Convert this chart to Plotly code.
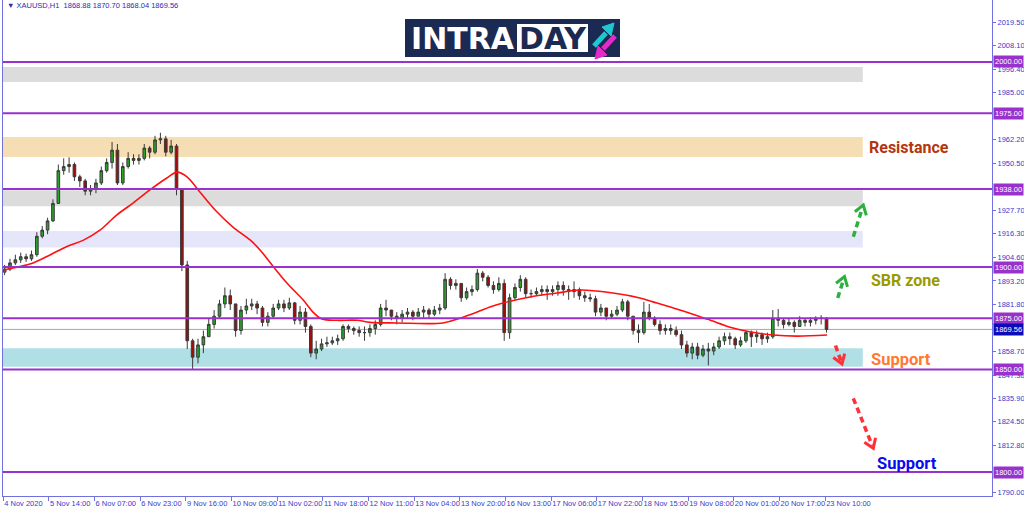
import plotly.graph_objects as go

# ---------------- data (2-hour candles) ----------------
closes = [1899, 1902, 1903.5, 1905, 1904, 1906, 1915, 1918, 1922.5, 1931,
          1947, 1949, 1950, 1944, 1942, 1937, 1938, 1941, 1947, 1951,
          1957, 1941, 1949, 1953, 1952, 1953, 1958, 1956, 1962, 1962.5,
          1956, 1959, 1938, 1901, 1864, 1856, 1862, 1866, 1872, 1876,
          1882, 1886, 1882, 1869, 1879, 1881, 1882, 1880, 1873, 1876,
          1880, 1882, 1880, 1882.5, 1874, 1878, 1871, 1858, 1860, 1862.5,
          1863, 1864, 1865, 1871, 1870, 1869, 1868, 1868, 1870, 1872,
          1880, 1879, 1876, 1875, 1877, 1878, 1876, 1878, 1879, 1877,
          1879, 1880, 1894, 1891, 1892, 1885, 1888, 1889, 1897, 1895,
          1891, 1889, 1892, 1868, 1885, 1890, 1894, 1887, 1887, 1888,
          1889, 1888, 1889, 1891, 1889, 1888, 1889, 1886, 1885, 1884.5,
          1878, 1880, 1876, 1877, 1879, 1883, 1876, 1869, 1868, 1878,
          1875, 1872, 1869, 1870, 1869, 1867, 1862, 1858, 1861, 1857,
          1860, 1859, 1861, 1864, 1866, 1865, 1862, 1864, 1868, 1866,
          1867, 1865, 1866, 1875, 1874, 1872, 1873, 1871, 1874, 1873,
          1874, 1875, 1875, 1869.56]
highs = [1901, 1904, 1906, 1907, 1906.5, 1908, 1917, 1920, 1924, 1933,
         1950, 1953, 1953.5, 1951, 1945, 1943, 1940, 1943, 1949, 1953,
         1961, 1960, 1951, 1956, 1955, 1955, 1960, 1959, 1964, 1965.5,
         1964, 1962, 1960, 1938, 1903, 1865, 1865, 1869, 1875, 1879,
         1884, 1890, 1889, 1882, 1881, 1884.5, 1884.5, 1883.5, 1881, 1878,
         1882, 1884, 1884, 1885, 1883, 1881, 1880, 1872, 1864, 1865,
         1866, 1866, 1867, 1872, 1872, 1871, 1871, 1871, 1872, 1874,
         1882, 1884, 1879, 1878, 1879, 1880, 1879, 1880, 1881, 1880,
         1881, 1882, 1897, 1895, 1894, 1892, 1890, 1891, 1899, 1898,
         1896, 1893, 1895, 1894, 1887, 1892, 1896, 1895, 1889, 1890,
         1891, 1891, 1891, 1893, 1893, 1891, 1893, 1890, 1888, 1887,
         1886, 1882, 1880, 1879, 1881, 1884.5, 1884, 1876, 1872, 1883,
         1882, 1876, 1874, 1872, 1872, 1871, 1869, 1864, 1863, 1863,
         1862, 1863, 1863, 1866, 1868, 1868, 1866, 1866, 1869, 1869,
         1869, 1868, 1868, 1879, 1879.5, 1875, 1875, 1874, 1876, 1875,
         1875.5, 1876, 1876.5, 1875.5]
lows = [1896, 1898, 1901, 1902, 1902.5, 1903, 1905, 1914, 1916, 1922,
        1931, 1945, 1946, 1942, 1939, 1935, 1935, 1936, 1940, 1946,
        1948, 1940, 1940, 1948, 1950, 1950, 1952, 1953, 1955, 1960,
        1954, 1955, 1935, 1898, 1860, 1850, 1853, 1858, 1866, 1870,
        1875, 1880, 1879, 1866, 1867, 1877, 1879, 1877, 1871, 1871,
        1875, 1879, 1878, 1879, 1872, 1872, 1868, 1856, 1855, 1859,
        1861, 1862, 1862, 1864, 1868, 1867, 1866, 1864, 1866, 1867,
        1871, 1876, 1874, 1872, 1873, 1875, 1874, 1876, 1875, 1875,
        1876, 1877, 1879, 1889, 1889, 1883, 1884, 1886, 1888, 1893,
        1890, 1887, 1888, 1864, 1865, 1884, 1888, 1885, 1885, 1886,
        1886, 1884, 1886, 1886, 1886, 1884, 1885, 1884, 1883, 1883,
        1876, 1876, 1874, 1875, 1876, 1878, 1874, 1867, 1863, 1867,
        1874, 1871, 1867, 1867, 1867, 1866, 1860, 1856, 1855, 1855,
        1856, 1852, 1857, 1860, 1862, 1862, 1860, 1861, 1863, 1861,
        1863, 1862, 1863, 1865, 1871, 1870, 1871, 1868, 1871, 1871,
        1871, 1872, 1872, 1868]
first_open = 1897.5

# moving average (hours since first bar, price)
ma_hours = [0, 6.2, 11.1, 17.4, 23.7, 29.7, 36, 42.3, 48.3, 54.6, 60.9, 64.7,
            68.4, 73.2, 79.6, 85.5, 91.9, 95.6, 98.6, 105.6, 111.6, 115.3,
            118.7, 124.2, 131.7, 136.5, 146.6, 163.7, 170, 176.4, 181.2, 186,
            196.1, 206.1, 214.7, 227, 237, 241.9, 251.9, 262, 271.7, 280.6,
            286.6, 295.5, 306.7]
ma_values = [1898.5, 1900.2, 1902, 1905.9, 1910, 1913, 1918, 1925.4, 1931.2,
             1937.6, 1943.4, 1946.3, 1944, 1936.6, 1926.8, 1919.5, 1913.2,
             1908.3, 1903.4, 1892.2, 1884, 1878, 1874.6, 1874, 1874, 1873,
             1872.7, 1872.7, 1875, 1878, 1880.5, 1882.4, 1885.4, 1887.3,
             1888.8, 1887.3, 1884.9, 1883, 1879, 1874.6, 1870.2, 1867.8,
             1866.8, 1866.3, 1866.8]

tick_hours = [17 * k for k in range(19)]
tick_labels = ["4 Nov 2020", "5 Nov 14:00", "6 Nov 07:00", "6 Nov 23:00",
               "9 Nov 16:00", "10 Nov 09:00", "11 Nov 02:00", "11 Nov 18:00",
               "12 Nov 11:00", "13 Nov 04:00", "13 Nov 20:00", "16 Nov 13:00",
               "17 Nov 06:00", "17 Nov 22:00", "18 Nov 15:00", "19 Nov 08:00",
               "20 Nov 01:00", "20 Nov 17:00", "23 Nov 10:00"]

price_ticks = [2019.50, 2008.10, 1996.40, 1985.00, 1962.20, 1950.50,
               1927.70, 1916.30, 1904.60, 1893.20, 1881.80,
               1858.70, 1847.30, 1835.90, 1824.50, 1812.80, 1790.00]

levels = [2000, 1975, 1938, 1900, 1875, 1850, 1800]
last_price = 1869.56

zone_tops = [1997.6, 1963.4, 1937.5, 1917.6, 1860.4]
zone_bottoms = [1990.2, 1953.7, 1929.6, 1909.5, 1851.4]
zone_colors = ["#DCDCDC", "#F5DEB3", "#DCDCDC", "#E6E6FA", "#B0E0E6"]
zone_end_hour = 320

# ---------------- figure ----------------
W, H = 1024, 511
ML, MR, MT, MB = 3, 32, 0, 15
PW, PH = W - ML - MR, H - MT - MB


def px(x):
    return (x - ML) / PW


def py(y):
    return (MT + PH - y) / PH


opens = [first_open] + closes[:-1]
bar_hours = [2 * i + 0.5 for i in range(len(closes))]

fig = go.Figure()

fig.add_trace(go.Candlestick(
    x=bar_hours, open=opens, high=highs, low=lows, close=closes,
    increasing=dict(line=dict(color="#3a3a3a", width=1), fillcolor="#27A327"),
    decreasing=dict(line=dict(color="#3a3a3a", width=1), fillcolor="#A00C0C"),
    whiskerwidth=0, hoverinfo="skip", showlegend=False))

fig.add_trace(go.Scatter(x=ma_hours, y=ma_values, mode="lines",
                         line=dict(color="#FF1010", width=1.6, shape="spline"),
                         hoverinfo="skip", showlegend=False))

shapes = []
for top, bot, col in zip(zone_tops, zone_bottoms, zone_colors):
    shapes.append(dict(type="rect", xref="x", yref="y", x0=-0.1, x1=zone_end_hour,
                       y0=bot, y1=top, fillcolor=col, line=dict(width=0),
                       layer="below"))
shapes.append(dict(type="line", xref="paper", yref="y", x0=0, x1=1,
                   y0=last_price, y1=last_price,
                   line=dict(color="#A8A8A8", width=1), layer="below"))
for lv in levels:
    shapes.append(dict(type="line", xref="paper", yref="y", x0=0, x1=1,
                       y0=lv, y1=lv, line=dict(color="#9932CC", width=2),
                       layer="above"))


def arrow(x0, y0, x1, y1, color):
    dx, dy = x1 - x0, y1 - y0
    L = (dx * dx + dy * dy) ** 0.5
    ux, uy = dx / L, dy / L
    pxp, pyp = -uy, ux
    hs, hw = 9, 6
    bx, by = x1 - hs * ux, y1 - hs * uy
    a = (bx + hw * pxp, by + hw * pyp)
    b = (bx - hw * pxp, by - hw * pyp)
    shapes.append(dict(type="line", xref="paper", yref="paper",
                       x0=px(x0), y0=py(y0), x1=px(x1 - 3 * ux), y1=py(y1 - 3 * uy),
                       line=dict(color=color, width=3.5, dash="6px,4px")))
    shapes.append(dict(type="path", xref="paper", yref="paper",
                       path=f"M {px(a[0])},{py(a[1])} L {px(x1)},{py(y1)} L {px(b[0])},{py(b[1])}",
                       line=dict(color=color, width=3)))


arrow(853.3, 236.7, 863.3, 205, "#2FAF3F")
arrow(837.7, 298, 844.5, 276.5, "#2FAF3F")
arrow(835.5, 345.5, 842, 364, "#FF3038")
arrow(853.3, 398.3, 873.3, 448.3, "#FF3038")

# logo
shapes.append(dict(type="rect", xref="paper", yref="paper", x0=px(405), x1=px(620),
                   y0=py(57), y1=py(19), fillcolor="#1B2A52", line=dict(width=0)))
shapes.append(dict(type="rect", xref="paper", yref="paper", x0=px(517), x1=px(588),
                   y0=py(52), y1=py(24), fillcolor="#FFFFFF", line=dict(width=0)))
shapes.append(dict(type="line", xref="paper", yref="paper", x0=px(594), y0=py(46),
                   x1=px(606), y1=py(33), line=dict(color="#1CC8D2", width=5)))
shapes.append(dict(type="path", xref="paper", yref="paper",
                   path=f"M {px(602)},{py(27)} L {px(614)},{py(23)} L {px(611)},{py(36)} Z",
                   fillcolor="#1CC8D2", line=dict(color="#1CC8D2", width=1)))
shapes.append(dict(type="line", xref="paper", yref="paper", x0=px(615), y0=py(36),
                   x1=px(603), y1=py(49), line=dict(color="#E42AC8", width=5)))
shapes.append(dict(type="path", xref="paper", yref="paper",
                   path=f"M {px(607)},{py(55)} L {px(595)},{py(59)} L {px(598)},{py(46)} Z",
                   fillcolor="#E42AC8", line=dict(color="#E42AC8", width=1)))

annotations = []
for lv in levels:
    annotations.append(dict(xref="paper", yref="y", x=1, y=lv, xanchor="left",
                            yanchor="middle", xshift=1, text=f"{lv:.2f}",
                            showarrow=False, bgcolor="#9932CC", borderpad=1,
                            font=dict(family="Liberation Sans, Arial", size=7.5,
                                      color="#FFFFFF")))
annotations.append(dict(xref="paper", yref="y", x=1, y=last_price, xanchor="left",
                        yanchor="middle", xshift=1, text=f"{last_price:.2f}",
                        showarrow=False, bgcolor="#0B0BB8", borderpad=1,
                        font=dict(family="Liberation Sans, Arial", size=7.5,
                                  color="#FFFFFF")))

annotations.append(dict(xref="paper", yref="paper", x=px(5), y=py(6),
                        xanchor="left", yanchor="middle", showarrow=False,
                        text="▼ XAUUSD,H1  1868.88 1870.70 1868.04 1869.56",
                        font=dict(family="Liberation Sans, Arial", size=7.5,
                                  color="#2B2BB0")))

label_font = "Roboto, Arial"
annotations += [
    dict(xref="paper", yref="paper", x=px(867), y=py(147.7), xanchor="left",
         yanchor="middle", showarrow=False, text="<b>Resistance</b>",
         font=dict(family=label_font, size=16, color="#B4360C")),
    dict(xref="paper", yref="paper", x=px(869), y=py(280), xanchor="left",
         yanchor="middle", showarrow=False, text="<b>SBR zone</b>",
         font=dict(family=label_font, size=16, color="#9A9A00")),
    dict(xref="paper", yref="paper", x=px(868.5), y=py(359), xanchor="left",
         yanchor="middle", showarrow=False, text="<b>Support</b>",
         font=dict(family=label_font, size=16.5, color="#FF7A30")),
    dict(xref="paper", yref="paper", x=px(875), y=py(463), xanchor="left",
         yanchor="middle", showarrow=False, text="<b>Support</b>",
         font=dict(family=label_font, size=16.5, color="#0A0AEE")),
    dict(xref="paper", yref="paper", x=px(463), y=py(39), xanchor="center",
         yanchor="middle", showarrow=False, text="<b>INTRA</b>",
         font=dict(family="DejaVu Sans", size=30, color="#FFFFFF")),
    dict(xref="paper", yref="paper", x=px(552.5), y=py(39), xanchor="center",
         yanchor="middle", showarrow=False, text="<b>DAY</b>",
         font=dict(family="DejaVu Sans", size=30, color="#1B2A52")),
]

axis_col = "#7070E0"
tick_font = dict(family="Liberation Sans, Arial", size=7.5, color="#3A3AC8")

fig.update_layout(
    width=W, height=H, margin=dict(l=ML, r=MR, t=MT, b=MB, autoexpand=False),
    paper_bgcolor="#FFFFFF", plot_bgcolor="#FFFFFF", showlegend=False,
    shapes=shapes, annotations=annotations,
    xaxis=dict(range=[-0.1, -0.1 + PW / 2.686], rangeslider=dict(visible=False),
               tickmode="array", tickvals=tick_hours, ticktext=tick_labels,
               ticks="outside", ticklen=4, tickcolor=axis_col, tickangle=0,
               ticklabelposition="outside right", tickfont=tick_font,
               automargin=False,
               showgrid=False, zeroline=False, showline=True, linecolor=axis_col,
               linewidth=1, mirror=True, fixedrange=True),
    yaxis=dict(range=[1788.3, 2030.24], side="right", tickmode="array",
               tickvals=price_ticks, ticktext=[f"{v:.2f}" for v in price_ticks],
               ticks="outside", ticklen=3, tickcolor=axis_col, tickfont=tick_font,
               automargin=False,
               showgrid=False, zeroline=False, showline=True, linecolor=axis_col,
               linewidth=1, mirror=True, fixedrange=True),
)

fig.write_html("out.html", config={"displayModeBar": False},
               post_script="document.body.style.margin='0';")
